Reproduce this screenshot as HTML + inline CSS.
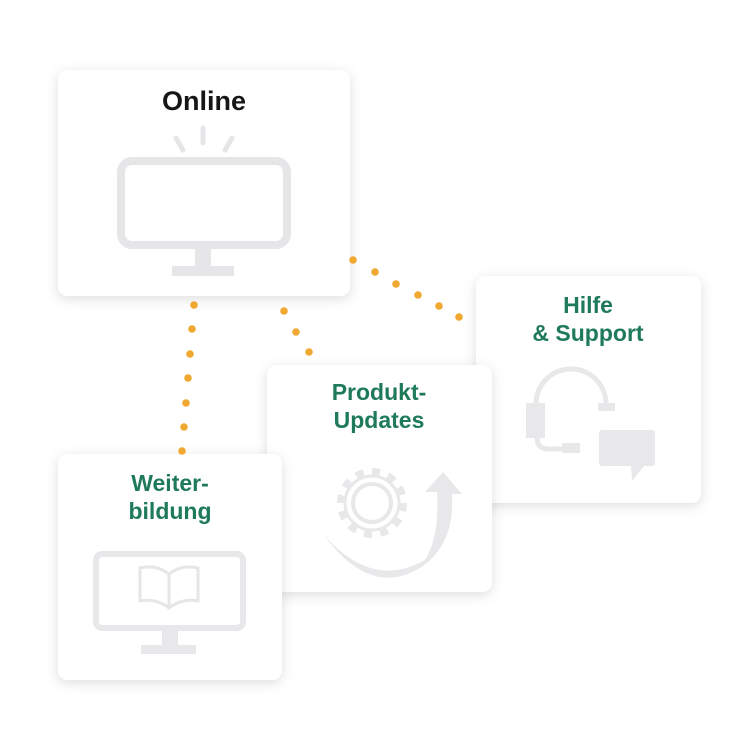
<!DOCTYPE html>
<html><head><meta charset="utf-8"><style>
body{margin:0;background:#fff;width:750px;height:750px;overflow:hidden}
svg{display:block}
text{font-family:"Liberation Sans",sans-serif;font-weight:bold;text-anchor:middle}
</style></head><body>
<svg width="750" height="750" viewBox="0 0 750 750">
<defs>
<filter id="sh" x="-20%" y="-20%" width="140%" height="140%"><feDropShadow dx="0" dy="3" stdDeviation="6" flood-color="#000" flood-opacity="0.13"/></filter>
</defs>
<!-- Online -->
<rect x="58" y="70" width="292" height="226" rx="10" fill="#fff" filter="url(#sh)"/>
<text x="204" y="110" font-size="27" fill="#161616">Online</text>
<g fill="none" stroke="#e6e6e8" stroke-linecap="round" stroke-width="5">
<line x1="203" y1="128" x2="203" y2="143"/><line x1="176" y1="138" x2="183" y2="150"/><line x1="232" y1="138" x2="225" y2="150"/>
</g>
<rect x="121" y="161" width="166" height="84" rx="11" fill="none" stroke="#e6e6e8" stroke-width="8"/>
<rect x="195" y="249" width="16" height="18" fill="#e6e6e8"/><rect x="172" y="266" width="62" height="10" fill="#e6e6e8"/>
<!-- Hilfe -->
<rect x="476" y="276" width="225" height="227" rx="10" fill="#fff" filter="url(#sh)"/>
<text x="588" y="313" font-size="23" fill="#1e7a58">Hilfe</text>
<text x="588" y="341" font-size="23" fill="#1e7a58">&amp; Support</text>
<g fill="#e8e8ea">
<path d="M536 404 A34 34 0 0 1 606 404" fill="none" stroke="#e8e8ea" stroke-width="5"/>
<rect x="526" y="403" width="19" height="35"/><rect x="598" y="403" width="17" height="8"/>
<path d="M537 438 q0 11 12 11 h14" fill="none" stroke="#e8e8ea" stroke-width="5"/>
<rect x="562" y="443" width="18" height="10"/>
<rect x="599" y="430" width="56" height="36" rx="3"/><polygon points="631,466 644,466 632,481"/>
</g>
<!-- Produkt -->
<rect x="267" y="365" width="225" height="227" rx="10" fill="#fff" filter="url(#sh)"/>
<text x="379" y="400" font-size="23" fill="#1e7a58">Produkt-</text>
<text x="379" y="428" font-size="23" fill="#1e7a58">Updates</text>
<g fill="none" stroke="#e8e8ea">
<circle cx="372" cy="503" r="19" stroke-width="4"/>
<circle cx="372" cy="503" r="31" stroke-width="8" stroke-dasharray="8 8.2"/>
<circle cx="372" cy="503" r="27" stroke-width="3"/>
</g>
<path d="M324 535 Q372 590 425 560 Q440 535 437 492 L425 492 L443 472 L462 494 L452 494 Q455 545 420 568 Q370 598 324 535 Z" fill="#e8e8ea"/>
<!-- Weiterbildung -->
<rect x="58" y="454" width="224" height="226" rx="10" fill="#fff" filter="url(#sh)"/>
<text x="170" y="491" font-size="23" fill="#1e7a58">Weiter-</text>
<text x="170" y="519" font-size="23" fill="#1e7a58">bildung</text>
<rect x="96" y="554" width="147" height="74" rx="6" fill="none" stroke="#e8e8ea" stroke-width="6"/>
<rect x="162" y="630" width="16" height="17" fill="#e8e8ea"/><rect x="141" y="645" width="55" height="9" fill="#e8e8ea"/>
<path d="M140 568 q16-4 29 6 q13-10 29-6 v33 q-16-3-29 7 q-13-10-29-7 z M169 574 v34" fill="none" stroke="#e6e6e8" stroke-width="3"/>
<!-- dots -->
<g fill="#f0a830">
<circle cx="353" cy="260" r="3.8"/><circle cx="375" cy="272" r="3.8"/><circle cx="396" cy="284" r="3.8"/><circle cx="418" cy="295" r="3.8"/><circle cx="439" cy="306" r="3.8"/><circle cx="459" cy="317" r="3.8"/>
<circle cx="284" cy="311" r="3.8"/><circle cx="296" cy="332" r="3.8"/><circle cx="309" cy="352" r="3.8"/>
<circle cx="194" cy="305" r="3.8"/><circle cx="192" cy="329" r="3.8"/><circle cx="190" cy="354" r="3.8"/><circle cx="188" cy="378" r="3.8"/><circle cx="186" cy="403" r="3.8"/><circle cx="184" cy="427" r="3.8"/><circle cx="182" cy="451" r="3.8"/>
</g>
</svg>
</body></html>
